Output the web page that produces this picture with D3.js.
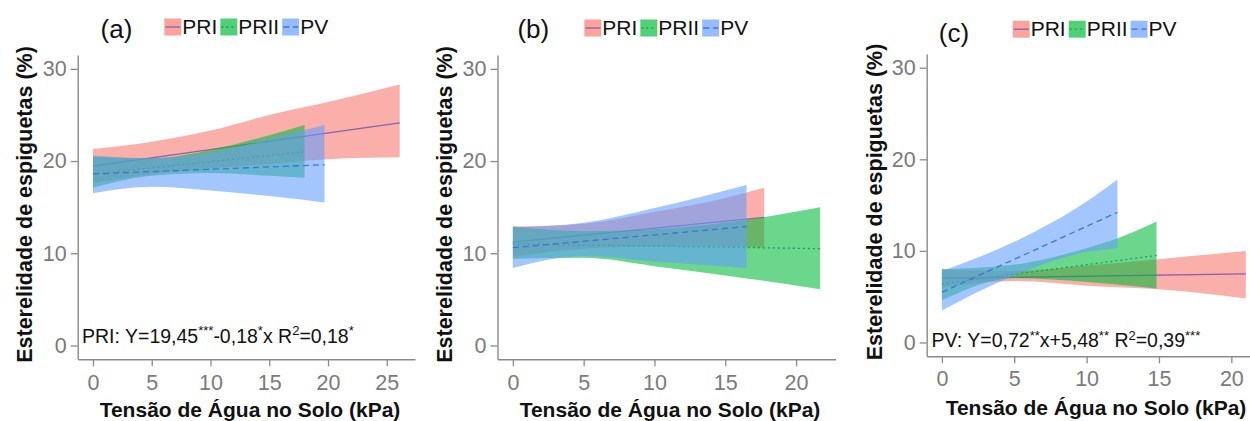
<!DOCTYPE html>
<html>
<head>
<meta charset="utf-8">
<script src="https://cdn.jsdelivr.net/npm/d3@7"></script>
<style>
  html, body { margin: 0; padding: 0; background: #fff; }
  svg { display: block; font-family: "Liberation Sans", Arial, sans-serif; }
</style>
</head>
<body>
<svg id="chart" width="1250" height="421"></svg>
<script>
// ---- data ----
const seriesNames = ["PRI", "PRII", "PV"];
const panelLabels = ["(a)", "(b)", "(c)"];
const yTicks = [0, 10, 20, 30];
const xTicksA = [0, 5, 10, 15, 20, 25];
const xTicksB = [0, 5, 10, 15, 20];
const xTicksC = [0, 5, 10, 15, 20];

// panel (a): fitted line end values and confidence band (x, lower, upper)
const aPRIx   = [0, 5, 10, 15, 20, 26.1];
const aPRIlo  = [17.6, 18.6, 19.2, 19.7, 20.2, 20.4];
const aPRIhi  = [21.3, 22.1, 23.3, 25.0, 26.4, 28.3];
const aPRIfit = [19.45, 24.15];
const aPRIIx   = [0, 5, 10, 15, 18];
const aPRIIlo  = [17.1, 18.4, 18.7, 18.4, 18.2];
const aPRIIhi  = [20.5, 20.3, 21.2, 22.8, 23.9];
const aPRIIfit = [18.6, 21.0];
const aPVx   = [0, 5, 10, 15, 19.7];
const aPVlo  = [16.5, 17.2, 16.8, 16.2, 15.5];
const aPVhi  = [20.6, 20.3, 20.9, 22.4, 23.9];
const aPVfit = [18.6, 19.6];

// panel (b)
const bPRIx   = [0, 5, 10, 15, 17.75];
const bPRIlo  = [9.6, 10.5, 10.7, 10.7, 10.6];
const bPRIhi  = [12.9, 13.2, 14.5, 16.0, 17.1];
const bPRIfit = [11.2, 13.9];
const bPRIIx   = [0, 5, 10, 15, 21.7];
const bPRIIlo  = [9.4, 9.5, 8.6, 7.6, 6.1];
const bPRIIhi  = [12.9, 12.4, 12.6, 13.3, 15.0];
const bPRIIfit = [11.0, 10.5];
const bPVx   = [0, 5, 10, 16.5];
const bPVlo  = [8.4, 9.7, 9.1, 8.4];
const bPVhi  = [12.8, 13.3, 14.9, 17.4];
const bPVfit = [10.6, 12.9];

// panel (c)
const cPRIx   = [0, 5, 10, 15, 21];
const cPRIlo  = [6.0, 6.7, 6.2, 5.8, 4.8];
const cPRIhi  = [8.0, 7.8, 8.4, 9.1, 10.0];
const cPRIfit = [7.0, 7.5];
const cPRIIx   = [0, 5, 10, 12.2, 14.83];
const cPRIIlo  = [4.6, 7.0, 6.6, 6.3, 5.9];
const cPRIIhi  = [8.0, 8.5, 10.3, 11.4, 13.2];
const cPRIIfit = [6.4, 9.5];
const cPVx   = [0, 5, 10, 12.13];
const cPVlo  = [3.5, 7.3, 9.9, 10.3];
const cPVhi  = [7.8, 11.0, 15.4, 17.8];
const cPVfit = [5.48, 14.21];

// regression equations (text, superscript flag)
const eqA = [["PRI: Y=19,45", 0], ["***", 1], ["-0,18", 0], ["*", 1], ["x R", 0], ["2", 1], ["=0,18", 0], ["*", 1]];
const eqC = [["PV: Y=0,72", 0], ["**", 1], ["x+5,48", 0], ["**", 1], [" R", 0], ["2", 1], ["=0,39", 0], ["***", 1]];

const yTitle = "Esterelidade de espiguetas (%)";
const xTitle = "Tensão de Água no Solo (kPa)";

// ---- styles ----
const fillColors = ["#F8766D", "#00BA38", "#619CFF"];
const lineColors = ["#8a5fae", "#1f9a58", "#4470d8"];
const lineDash = [null, "2,3", "6,4"];
const fillOpacity = 0.58;
const axisColor = "#8a8a8a";
const tickTextColor = "#7a7a7a";

const svg = d3.select("#chart");

function buildSeries(xs, lo, hi, fit) {
  return {
    band: xs.map((x, i) => ({ x: x, lo: lo[i], hi: hi[i] })),
    line: [{ x: xs[0], y: fit[0] }, { x: xs[xs.length - 1], y: fit[1] }]
  };
}

function drawPanel(p) {
  const g = svg.append("g");
  const x = d3.scaleLinear().domain(p.xDomain).range(p.xRange);
  const y = d3.scaleLinear().domain([-1.5, 31.5]).range(p.yRange);

  const area = d3.area()
    .x(d => x(d.x)).y0(d => y(d.lo)).y1(d => y(d.hi))
    .curve(d3.curveMonotoneX);
  const line = d3.line().x(d => x(d.x)).y(d => y(d.y));

  // each group: ribbon then fitted line
  p.series.forEach((s, i) => {
    g.append("path").attr("d", area(s.band))
      .attr("fill", fillColors[i]).attr("fill-opacity", fillOpacity);
    g.append("path").attr("d", line(s.line))
      .attr("fill", "none").attr("stroke", lineColors[i])
      .attr("stroke-width", 1.3)
      .attr("stroke-dasharray", lineDash[i]);
  });

  // axes
  const xAxis = g.append("g")
    .attr("transform", `translate(0,${p.yRange[0]})`)
    .call(d3.axisBottom(x).tickValues(p.xTicks).tickSize(7).tickSizeOuter(0).tickPadding(8));
  const yAxis = g.append("g")
    .attr("transform", `translate(${p.xRange[0]},0)`)
    .call(d3.axisLeft(y).tickValues(yTicks).tickSize(7).tickSizeOuter(0).tickPadding(4));
  [xAxis, yAxis].forEach(ax => {
    ax.select(".domain").attr("stroke", axisColor).attr("stroke-width", 1.4);
    ax.selectAll(".tick line").attr("stroke", axisColor).attr("stroke-width", 1.3);
    ax.selectAll(".tick text").attr("fill", tickTextColor)
      .attr("font-size", 21.5).attr("font-family", "Liberation Sans, Arial, sans-serif");
  });

  // axis titles
  g.append("text")
    .attr("x", p.xTitleX).attr("y", p.xTitleY)
    .attr("text-anchor", "middle").attr("font-size", 21).attr("font-weight", "bold")
    .attr("fill", "#111").text(xTitle);
  g.append("text")
    .attr("transform", `translate(${p.yTitleX},${p.yTitleY}) rotate(-90)`)
    .attr("text-anchor", "middle").attr("font-size", 21.5).attr("font-weight", "bold")
    .attr("fill", "#111").text(yTitle);

  // panel label
  g.append("text")
    .attr("x", p.labelX).attr("y", p.labelY)
    .attr("text-anchor", "middle").attr("font-size", 26).attr("fill", "#111")
    .text(p.label);

  // legend
  let lx = p.legendX;
  const ly = p.legendY, ks = 17;
  seriesNames.forEach((name, i) => {
    g.append("rect").attr("x", lx).attr("y", ly).attr("width", ks).attr("height", ks)
      .attr("fill", fillColors[i]).attr("fill-opacity", fillOpacity + 0.1);
    g.append("line")
      .attr("x1", lx + 1).attr("x2", lx + ks - 1)
      .attr("y1", ly + ks / 2).attr("y2", ly + ks / 2)
      .attr("stroke", lineColors[i]).attr("stroke-width", 1.3)
      .attr("stroke-dasharray", lineDash[i]);
    const t = g.append("text").attr("x", lx + ks + 1).attr("y", ly + ks - 1.5)
      .attr("font-size", 21).attr("fill", "#111").text(name);
    lx += ks + 1 + t.node().getComputedTextLength() + 3;
  });

  // equation
  if (p.equation) {
    const et = g.append("text").attr("x", p.eqX).attr("y", p.eqY).attr("fill", "#111");
    let prevSup = false;
    p.equation.forEach(([txt, sup]) => {
      const dy = sup && !prevSup ? -7.5 : (!sup && prevSup ? 7.5 : 0);
      et.append("tspan").attr("dy", dy).attr("font-size", sup ? 13 : 19.5).text(txt);
      prevSup = !!sup;
    });
  }
}

drawPanel({
  label: panelLabels[0], labelX: 116.5, labelY: 37.5,
  legendX: 164.3, legendY: 18.5,
  xDomain: [-1.3, 27.4], xRange: [77.7, 415], yRange: [359.3, 55],
  xTicks: xTicksA,
  xTitleX: 250, xTitleY: 416.5, yTitleX: 32, yTitleY: 204.5,
  eqX: 82, eqY: 342.5, equation: eqA,
  series: [
    buildSeries(aPRIx, aPRIlo, aPRIhi, aPRIfit),
    buildSeries(aPRIIx, aPRIIlo, aPRIIhi, aPRIIfit),
    buildSeries(aPVx, aPVlo, aPVhi, aPVfit)
  ]
});

drawPanel({
  label: panelLabels[1], labelX: 533.3, labelY: 38,
  legendX: 584.3, legendY: 19.5,
  xDomain: [-1.085, 22.785], xRange: [497.5, 835.5], yRange: [359.3, 55],
  xTicks: xTicksB,
  xTitleX: 670, xTitleY: 416.5, yTitleX: 452, yTitleY: 204.5,
  series: [
    buildSeries(bPRIx, bPRIlo, bPRIhi, bPRIfit),
    buildSeries(bPRIIx, bPRIIlo, bPRIIhi, bPRIIfit),
    buildSeries(bPVx, bPVlo, bPVhi, bPVfit)
  ]
});

drawPanel({
  label: panelLabels[2], labelX: 954, labelY: 41.5,
  legendX: 1012.7, legendY: 20.7,
  xDomain: [-1.05, 22.05], xRange: [926.7, 1261], yRange: [356.2, 54],
  xTicks: xTicksC,
  xTitleX: 1096, xTitleY: 415, yTitleX: 882, yTitleY: 202,
  eqX: 931.5, eqY: 347, equation: eqC,
  series: [
    buildSeries(cPRIx, cPRIlo, cPRIhi, cPRIfit),
    buildSeries(cPRIIx, cPRIIlo, cPRIIhi, cPRIIfit),
    buildSeries(cPVx, cPVlo, cPVhi, cPVfit)
  ]
});
</script>
</body>
</html>
